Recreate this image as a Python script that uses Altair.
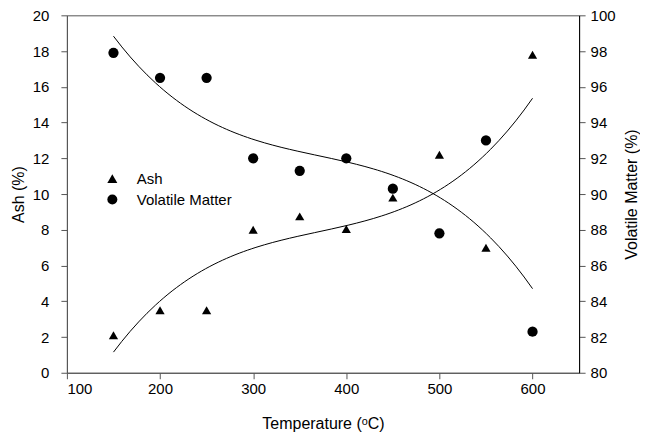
import altair as alt
import pandas as pd

temperature = [150, 200, 250, 300, 350, 400, 450, 500, 550, 600]
ash = [2.1, 3.5, 3.5, 8.0, 8.75, 8.05, 9.8, 12.2, 7.0, 17.8]
volatile = [97.9, 96.5, 96.5, 92.0, 91.3, 92.0, 90.3, 87.8, 93.0, 82.3]
series = ["Ash", "Volatile Matter"]
x_ticks = [100, 200, 300, 400, 500, 600]
ash_ticks = list(range(0, 21, 2))
vm_ticks = list(range(80, 101, 2))

df = pd.DataFrame({"temp": temperature, "ash": ash, "vm": volatile})

FONT = "Liberation Sans"
GRAY = "#555555"

x_enc = alt.X(
    "temp:Q",
    scale=alt.Scale(domain=[100, 650], nice=False, zero=False),
    axis=alt.Axis(
        values=x_ticks, title="Temperature (ᵒC)", grid=False,
        domainColor=GRAY, tickColor=GRAY, tickSize=6, labelPadding=3,
        labelFont=FONT, labelFontSize=15, labelColor="black",
        titleFont=FONT, titleFontSize=16, titleFontWeight="normal",
        titleColor="black", titlePadding=19,
    ),
)

shape_scale = alt.Scale(domain=series, range=["triangle-up", "circle"])
legend = alt.Legend(
    title=None, orient="none", legendX=38, legendY=156,
    labelFont=FONT, labelFontSize=15, labelColor="black",
    labelOffset=17, symbolSize=100, symbolFillColor="black",
    symbolStrokeColor="black", rowPadding=4, padding=0,
)

ash_y = alt.Y(
    "ash:Q",
    scale=alt.Scale(domain=[0, 20], nice=False),
    axis=alt.Axis(
        orient="left", values=ash_ticks, title="Ash (%)", grid=False,
        domainColor=GRAY, tickColor=GRAY, tickSize=6, labelPadding=12,
        labelFont=FONT, labelFontSize=15, labelColor="black",
        titleFont=FONT, titleFontSize=16, titleFontWeight="normal",
        titleColor="black", titlePadding=6,
    ),
)
vm_y = alt.Y(
    "vm:Q",
    scale=alt.Scale(domain=[80, 100], nice=False, zero=False),
    axis=alt.Axis(
        orient="right", values=vm_ticks, title="Volatile Matter (%)", grid=False,
        domainColor="black", tickColor=GRAY, tickSize=6, labelPadding=5,
        labelFont=FONT, labelFontSize=15, labelColor="black",
        titleFont=FONT, titleFontSize=16, titleFontWeight="normal",
        titleColor="black", titlePadding=8, titleAngle=270,
        titleBaseline="top",
    ),
)

base = alt.Chart(df)

ash_pts = base.transform_calculate(series="'Ash'").mark_point(
    filled=True, color="black", opacity=1, size=85
).encode(x=x_enc, y=ash_y, shape=alt.Shape("series:N", scale=shape_scale, legend=legend))

ash_line = base.transform_regression(
    "temp", "ash", method="poly", order=3, extent=[150, 600]
).mark_line(color="black", strokeWidth=1).encode(x=x_enc, y=ash_y)

vm_pts = base.transform_calculate(series="'Volatile Matter'").mark_point(
    filled=True, color="black", opacity=1, size=105
).encode(x=x_enc, y=vm_y, shape=alt.Shape("series:N", scale=shape_scale, legend=legend))

vm_line = base.transform_regression(
    "temp", "vm", method="poly", order=3, extent=[150, 600]
).mark_line(color="black", strokeWidth=1).encode(x=x_enc, y=vm_y)

chart = alt.layer(
    alt.layer(ash_pts, ash_line),
    alt.layer(vm_pts, vm_line),
).resolve_scale(y="independent").properties(
    width=513, height=358,
    padding={"left": 2, "top": 0, "right": 0, "bottom": 0},
).configure_view(stroke=GRAY, strokeWidth=1)

chart.save("out.html", embed_options={"renderer": "svg", "actions": False})
